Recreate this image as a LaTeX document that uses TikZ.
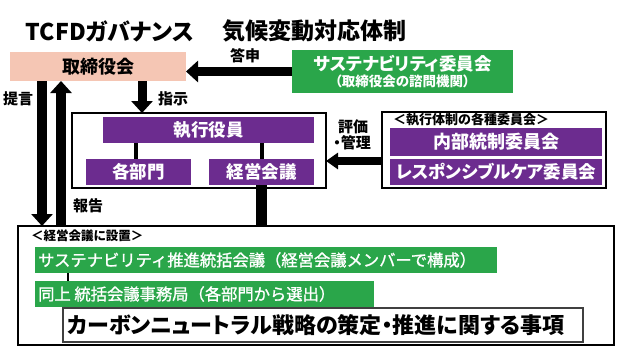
\documentclass[tikz,border=0pt]{standalone}
\usepackage{fontspec}
\setmainfont{Noto Sans CJK JP}[RawFeature=+palt]
\newfontfamily\fw{Noto Sans CJK JP}[UprightFeatures={FakeBold=1.2}]
\usetikzlibrary{arrows.meta,calc}
\definecolor{salmon}{HTML}{F5C6B4}
\definecolor{grn}{HTML}{2AA64A}
\definecolor{purp}{HTML}{6C2C8F}
\newcommand{\fs}[1]{\fontsize{#1}{#1}\selectfont}
\tikzset{
  box/.style={draw=none,inner sep=0pt,outer sep=0pt,anchor=center},
  pbox/.style={box,fill=purp,text=white,font=\bfseries\fs{17.5}},
  gbar/.style={box,fill=grn,text=white},
  gtext/.style={anchor=west,inner sep=0pt,text=white,font=\fw\fs{16.3}},
  frame/.style={draw=black,line width=1.6pt,fill=none,inner sep=0pt,outer sep=0pt},
  lbl/.style={inner sep=0pt,font=\bfseries\fs{15}},
  bigarrow/.style={line width=9pt,-{Triangle[length=12pt,width=21pt]}},
  bar/.style={line width=#1,draw=black},
}
\begin{document}
\begin{tikzpicture}[x=1pt,y=-1pt]
\useasboundingbox (0,0) rectangle (624,351);
% titles
\node[lbl,font=\bfseries\fs{23}] (t1) at (110,31) {TCFDガバナンス};
\node[lbl,font=\bfseries\fs{23}] (t2) at (314,31) {気候変動対応体制};
% board
\node[box,fill=salmon,minimum width=176pt,minimum height=29pt,font=\bfseries\fs{18}] (tori) at (98,66.5) {取締役会};
% sustainability committee
\node[box,fill=grn,text=white,minimum width=221pt,minimum height=43pt,align=center] (sust) at (402.5,71.5)
  {{\bfseries\fs{17.5}サステナビリティ委員会}\\[2pt]{\bfseries\fs{13.5}（取締役会の諮問機関）}};
% executive frame
\node[frame,minimum width=254pt,minimum height=75pt] (exec) at (199,150.5) {};
\node[pbox,minimum width=211pt,minimum height=26pt] (shikkou) at (208.5,130) {執行役員};
\node[pbox,minimum width=105pt,minimum height=26pt] (bumon) at (138.5,172) {各部門};
\node[pbox,minimum width=105pt,minimum height=26pt] (keiei) at (261.5,172) {経営会議};
\draw[bar=4pt] (shikkou.south -| 136,0) -- (bumon.north -| 136,0);
\draw[bar=4pt] (shikkou.south -| keiei.north) -- (keiei.north);
% committees frame
\node[frame,minimum width=224pt,minimum height=76pt] (right) at (494,150) {};
\node[lbl,font=\bfseries\fs{13},anchor=west] (rhead) at (393,120) {＜執行体制の各種委員会＞};
\node[pbox,minimum width=212pt,minimum height=28pt,font=\bfseries\fs{18}] (naibu) at (496,142) {内部統制委員会};
\node[pbox,minimum width=212pt,minimum height=26pt] (resp) at (496,172) {レスポンシブルケア委員会};
% bottom frame
\node[frame,minimum width=596pt,minimum height=119pt] (bottom) at (316,285.5) {};
\node[lbl,font=\bfseries\fs{12.5},anchor=west] (bhead) at (31,236) {＜経営会議に設置＞};
\node[gbar,minimum width=462pt,minimum height=26pt] (g1) at (266,260) {};
\node[gtext] (g1t) at (38,260) {サステナビリティ推進統括会議（経営会議メンバーで構成）};
\node[gbar,minimum width=339pt,minimum height=26pt] (g2) at (204.5,294) {};
\node[gtext] (g2t) at (38,294) {同上 統括会議事務局（各部門から選出）};
\draw[bar=2.5pt] (g1.south -| 68,0) -- (g2.north -| 68,0);
\node[box,draw=black!75,line width=1.2pt,fill=white,minimum width=520pt,minimum height=34pt] (carbon) at (323,325) {};
\node[anchor=west,inner sep=0pt,font=\bfseries\fs{22}] (carbont) at (67,325) {カーボンニュートラル戦略の策定・推進に関する事項};
% arrows
\draw[bigarrow] (sust.west) -- (sust.west -| tori.east);
\node[lbl] (l1) at (245,56) {答申};
\draw[bigarrow] ([xshift=44pt]tori.south) -- ([xshift=44pt]tori.south |- exec.north);
\node[lbl] (l2) at (173,99) {指示};
\draw[bigarrow,line width=10pt] ([xshift=-56pt]tori.south) -- ([xshift=-56pt]tori.south |- bottom.north);
\node[lbl] (l3) at (18,99) {提言};
\draw[bigarrow,line width=10pt] ([xshift=-37pt]tori.south |- bottom.north) -- ([xshift=-37pt]tori.south);
\node[lbl] (l4) at (88,206) {報告};
\coordinate (ev) at ([yshift=-11pt]right.west);
\draw[line width=8pt,-{Triangle[length=12pt,width=16pt]}] (ev) -- (exec.east |- ev);
\node[lbl] (l5) at (353,127) {評価};
\node[lbl] (l6) at (352,143) {・管理};
\draw[bar=11pt] (keiei.south) -- (keiei.south |- bottom.north);
\end{tikzpicture}
\end{document}
